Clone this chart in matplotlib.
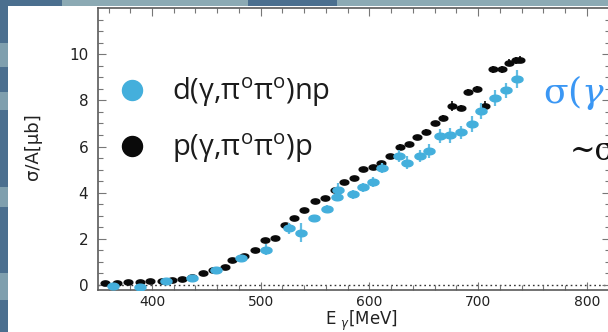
import numpy as np
import matplotlib
matplotlib.use("Agg")
import matplotlib.pyplot as plt
from matplotlib.lines import Line2D
from matplotlib.patches import Rectangle
from matplotlib.ticker import MultipleLocator, FixedLocator

# p(γ,π0π0)p : photon energy [MeV], cross section per nucleon [μb], error
e_proton = [357, 368, 378, 389, 398, 409, 418, 428, 437, 447, 456, 467, 474, 485, 495,
            504, 513, 522, 531, 540, 550, 559, 568, 577, 586, 594, 603, 611, 619, 628,
            636, 644, 652, 660, 668, 676, 684, 691, 699, 706, 714, 722, 728, 735, 739]
sig_proton = [0.07, 0.07, 0.12, 0.14, 0.17, 0.17, 0.22, 0.28, 0.36, 0.51, 0.65, 0.78, 1.08, 1.24, 1.52,
              1.95, 2.02, 2.60, 2.90, 3.25, 3.62, 3.77, 4.11, 4.45, 4.64, 5.01, 5.10, 5.29, 5.58, 5.99,
              6.09, 6.42, 6.64, 7.00, 7.24, 7.76, 7.68, 8.37, 8.51, 7.76, 9.34, 9.34, 9.64, 9.74, 9.77]
err_proton = [0.03, 0.03, 0.03, 0.03, 0.03, 0.03, 0.03, 0.03, 0.04, 0.04, 0.05, 0.05, 0.06, 0.06, 0.06,
              0.07, 0.07, 0.07, 0.07, 0.08, 0.08, 0.08, 0.08, 0.08, 0.08, 0.09, 0.09, 0.09, 0.09, 0.10,
              0.10, 0.10, 0.11, 0.12, 0.12, 0.20, 0.12, 0.13, 0.13, 0.20, 0.14, 0.14, 0.15, 0.15, 0.15]

# d(γ,π0π0)np : photon energy [MeV], cross section per nucleon [μb], error
e_deut = [364, 389, 413, 437, 459, 482, 505, 526, 537, 549, 561, 570, 571, 585, 594,
          603, 612, 627, 635, 647, 655, 665, 674, 684, 694, 703, 716, 726, 736]
sig_deut = [-0.05, -0.10, 0.19, 0.32, 0.66, 1.16, 1.52, 2.45, 2.27, 2.92, 3.30, 3.82, 4.11, 3.93, 4.23,
            4.46, 5.07, 5.59, 5.30, 5.58, 5.80, 6.45, 6.49, 6.61, 6.97, 7.54, 8.10, 8.43, 8.93]
err_deut = [0.05, 0.06, 0.07, 0.08, 0.09, 0.12, 0.24, 0.25, 0.42, 0.12, 0.15, 0.20, 0.29, 0.20, 0.20,
            0.23, 0.20, 0.25, 0.29, 0.25, 0.30, 0.30, 0.33, 0.30, 0.34, 0.35, 0.36, 0.32, 0.38]

label_deut = r"d(γ,π$^{\mathregular{o}}$π$^{\mathregular{o}}$)np"
label_proton = r"p(γ,π$^{\mathregular{o}}$π$^{\mathregular{o}}$)p"
x_ticks = [400, 500, 600, 700, 800]
y_ticks = [0, 2, 4, 6, 8, 10]

W, H = 608, 332
fig = plt.figure(figsize=(W / 100, H / 100), dpi=100)

# slide backdrop: blue frame with a white panel
dark, light = "#4b6f8f", "#8caab4"
fig.patch.set_facecolor(dark)
for x0, x1 in [(62, 248), (337, 608)]:
    fig.add_artist(Rectangle((x0 / W, 1 - 6 / H), (x1 - x0) / W, 6 / H,
                             transform=fig.transFigure, color=light, lw=0, zorder=-5))
for y0, y1 in [(43, 67), (92, 110), (187, 207), (273, 300)]:
    fig.add_artist(Rectangle((0, 1 - y1 / H), 8 / W, (y1 - y0) / H,
                             transform=fig.transFigure, color="#7f9fae", lw=0, zorder=-5))
fig.add_artist(Rectangle((8 / W, 0), 1 - 8 / W, 1 - 6 / H,
                         transform=fig.transFigure, color="white", lw=0, zorder=-4))

ax = fig.add_axes([98 / W, 1 - 290 / H, (609.5 - 98) / W, (290 - 8.3) / H])
ax.set_facecolor("none")
ax.set_xlim(350.3, 820.9)
ax.set_ylim(-0.217, 11.99)

ax.axhline(0, color="#333333", lw=1.0, ls=(0, (1.2, 2.2)), zorder=1)

theta = np.linspace(0, 2 * np.pi, 41)
ellipse = np.column_stack([np.cos(theta), 0.6 * np.sin(theta)])

black = "#0a0a0a"
blue = "#44afdc"
ax.errorbar(e_proton, sig_proton, yerr=err_proton, ls="none", marker=ellipse,
            markersize=6.3, color=black, mec=black, ecolor=black, elinewidth=1.2,
            capsize=0, zorder=3)
ax.errorbar(e_deut, sig_deut, yerr=err_deut, ls="none", marker=ellipse,
            markersize=8.0, color=blue, mec=blue, ecolor="#62bde3", elinewidth=1.6,
            capsize=0, zorder=4)

spine_c = "#5a5a5a"
for s in ax.spines.values():
    s.set_color(spine_c)
    s.set_linewidth(1.2)

ax.xaxis.set_major_locator(FixedLocator(x_ticks))
ax.xaxis.set_minor_locator(MultipleLocator(20))
ax.yaxis.set_major_locator(FixedLocator(y_ticks))
ax.yaxis.set_minor_locator(MultipleLocator(0.5))
ax.tick_params(which="both", direction="in", top=True, right=True, color="#777777", width=0.8)
ax.tick_params(which="major", length=6)
ax.tick_params(which="minor", length=3.5)
ax.tick_params(axis="y", which="major", labelsize=11, pad=7, labelcolor="#222222")
ax.tick_params(axis="x", which="major", labelsize=10, pad=3.5, labelcolor="#222222")
for lab in ax.get_xticklabels() + ax.get_yticklabels():
    lab.set_family("DejaVu Sans")

fig.text(361 / W, 1 - 325 / H, r"E $_{\gamma}$[MeV]", ha="center", va="baseline",
         fontsize=12, family="DejaVu Sans", color="#222222")
fig.text(33 / W, 1 - 147 / H, "σ/A[μb]", rotation=90, ha="center", va="center",
         fontsize=13, family=["Liberation Sans Narrow", "DejaVu Sans"], color="#222222")

handles = [Line2D([], [], ls="none", marker="o", markersize=14.4, color=blue, mec=blue),
           Line2D([], [], ls="none", marker="o", markersize=14.4, color=black, mec=black)]
leg = ax.legend(handles, [label_deut, label_proton], loc="upper left",
                bbox_to_anchor=(120.5 / W, 1 - 75.5 / H), bbox_transform=fig.transFigure,
                frameon=False, prop={"family": "Open Sans", "size": 21},
                handlelength=0.8, handletextpad=0.95, labelspacing=0.77,
                borderpad=0, borderaxespad=0)
for t in leg.get_texts():
    t.set_color("#1c1c1c")

fig.text(543 / W, 1 - 103 / H, r"σ($\gamma$", color="#3b97f4", fontsize=26,
         family="DejaVu Serif", math_fontfamily="dejavuserif", va="baseline")
fig.text(570 / W, 1 - 160 / H, "~σ", color="#111111", fontsize=22,
         family="DejaVu Serif", va="baseline")

fig.savefig("out.png", dpi=100)
